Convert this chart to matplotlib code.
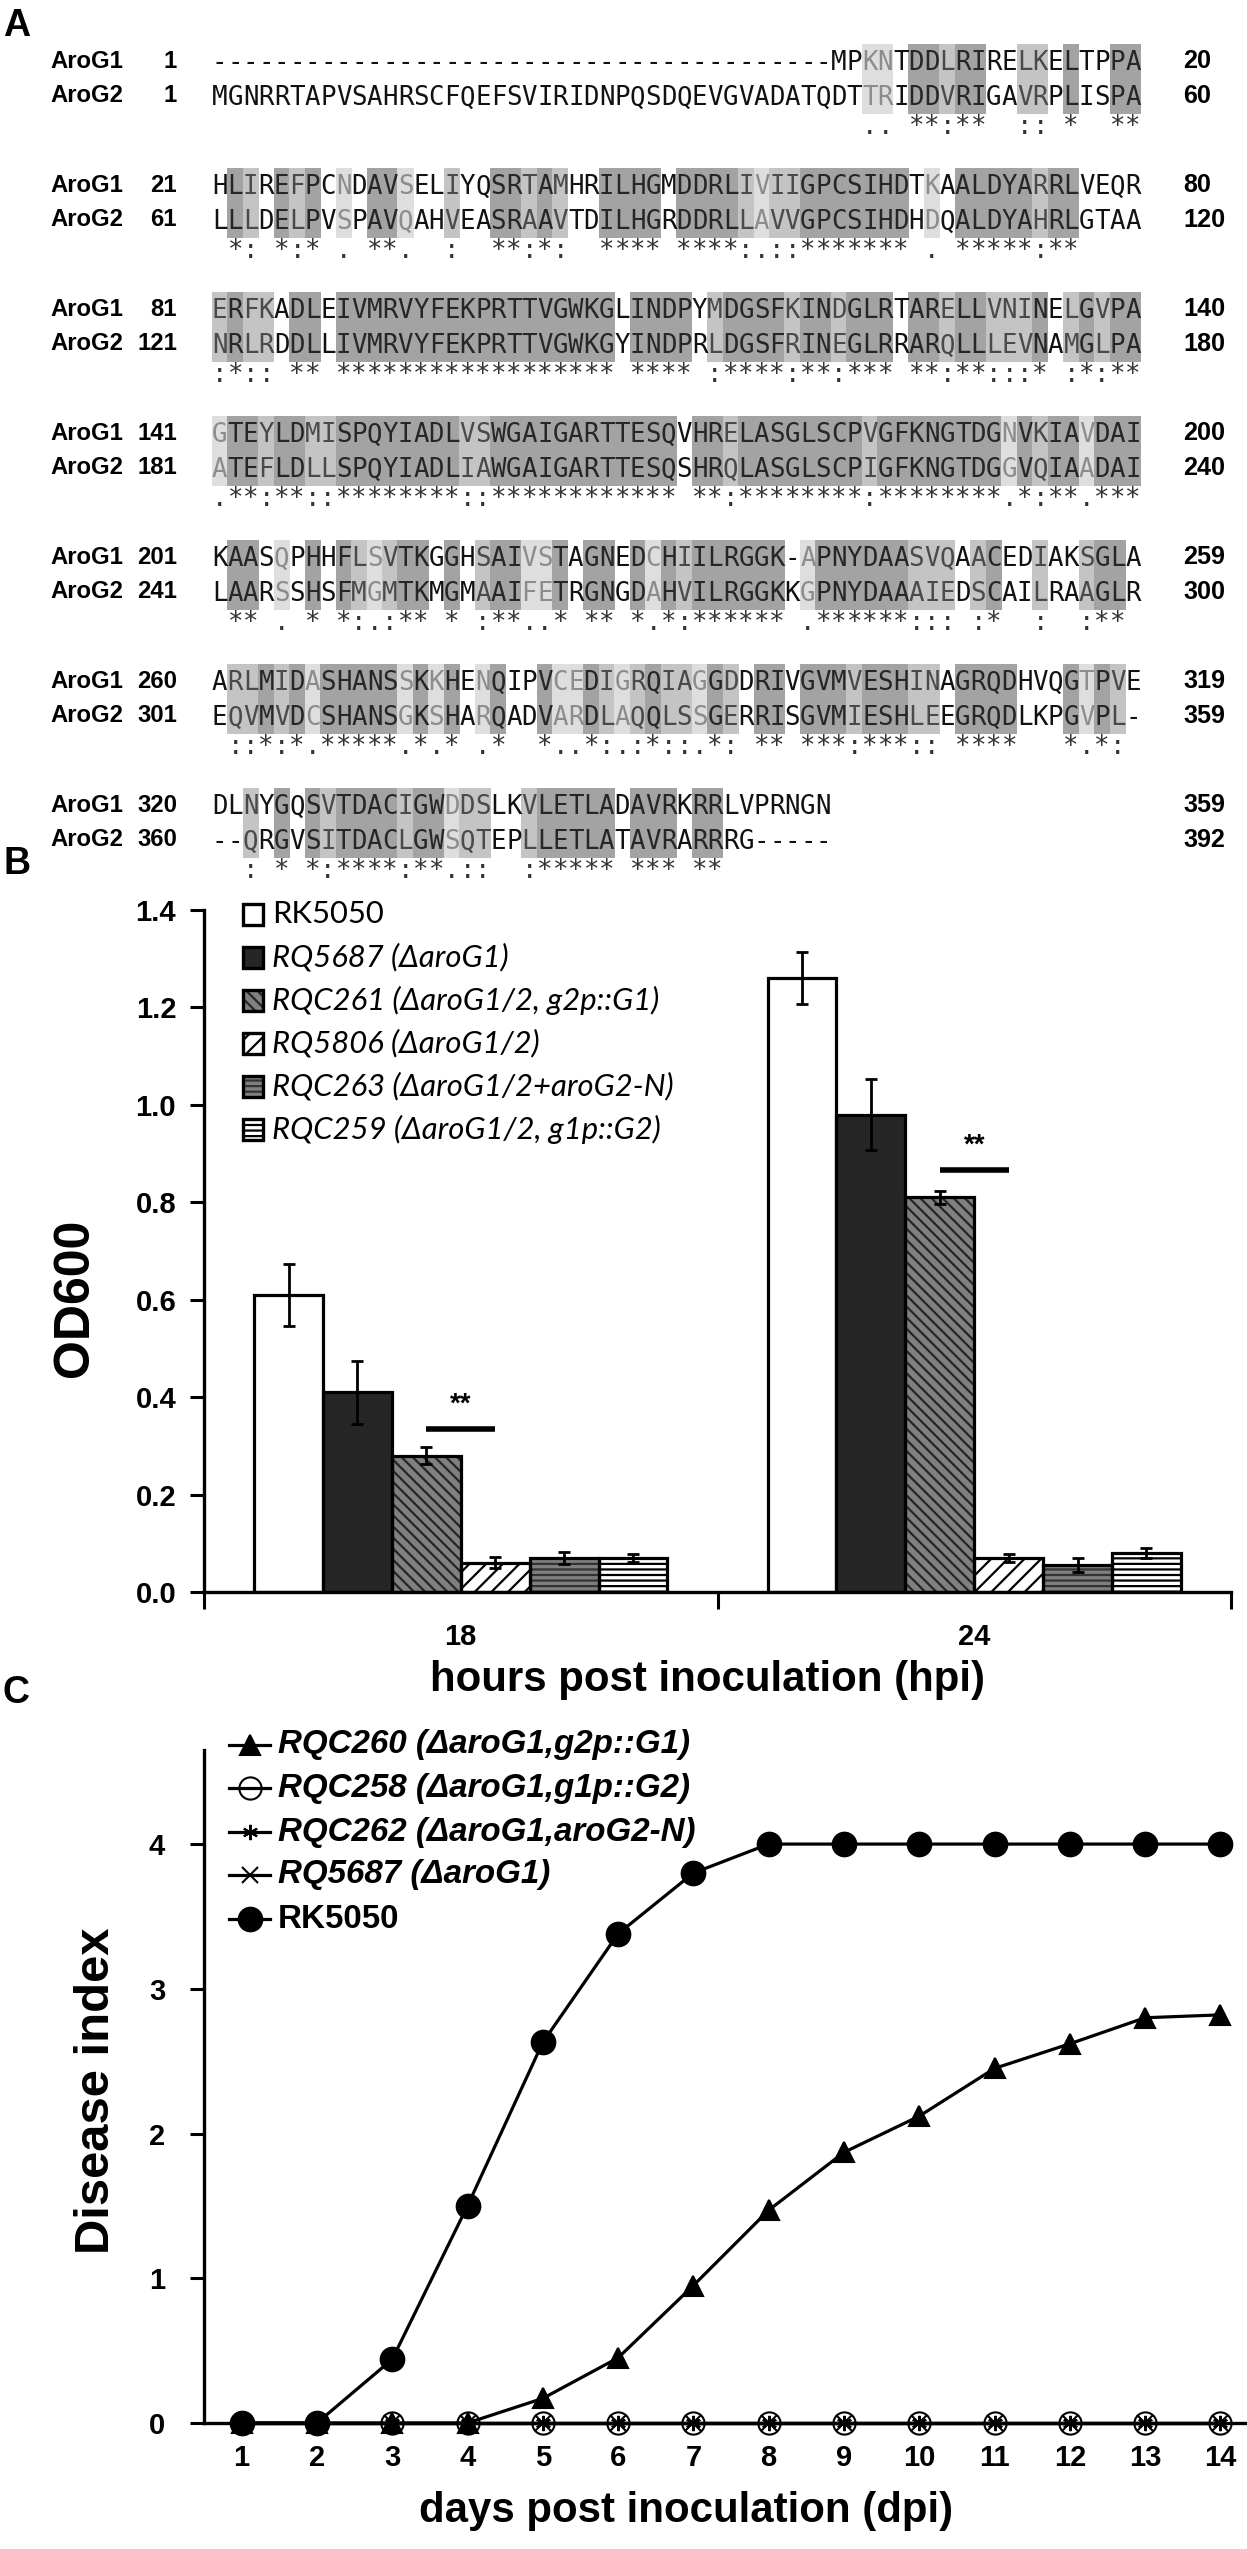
import matplotlib
matplotlib.use('Agg')
import matplotlib.pyplot as plt
import numpy as np
from matplotlib import font_manager as fm
from matplotlib.font_manager import FontProperties
from matplotlib.patches import Rectangle

# ---------------- data ----------------
aro_g1_seq = [
    "----------------------------------------MPKNTDDLRIRELKELTPPA",
    "HLIREFPCNDAVSELIYQSRTAMHRILHGMDDRLIVIIGPCSIHDTKAALDYARRLVEQR",
    "ERFKADLEIVMRVYFEKPRTTVGWKGLINDPYMDGSFKINDGLRTARELLVNINELGVPA",
    "GTEYLDMISPQYIADLVSWGAIGARTTESQVHRELASGLSCPVGFKNGTDGNVKIAVDAI",
    "KAASQPHHFLSVTKGGHSAIVSTAGNEDCHIILRGGK-APNYDAASVQAACEDIAKSGLA",
    "ARLMIDASHANSSKKHENQIPVCEDIGRQIAGGDDRIVGVMVESHINAGRQDHVQGTPVE",
    "DLNYGQSVTDACIGWDDSLKVLETLADAVRKRRLVPRNGN",
]
aro_g2_seq = [
    "MGNRRTAPVSAHRSCFQEFSVIRIDNPQSDQEVGVADATQDTTRIDDVRIGAVRPLISPA",
    "LLLDELPVSPAVQAHVEASRAAVTDILHGRDDRLLAVVGPCSIHDHDQALDYAHRLGTAA",
    "NRLRDDLLIVMRVYFEKPRTTVGWKGYINDPRLDGSFRINEGLRRARQLLLEVNAMGLPA",
    "ATEFLDLLSPQYIADLIAWGAIGARTTESQSHRQLASGLSCPIGFKNGTDGGVQIAADAI",
    "LAARSSHSFMGMTKMGMAAIFETRGNGDAHVILRGGKKGPNYDAAAIEDSCAILRAAGLR",
    "EQVMVDCSHANSGKSHARQADVARDLAQQLSSGERRISGVMIESHLEEGRQDLKPGVPL-",
    "--QRGVSITDACLGWSQTEPLLETLATAVRARRRG-----",
]
conservation = [
    "  .. **:**  :: *  **".rjust(60),
    "".join([" *: *:* ", ". ", "**", ".", "  ", ":", "  ", "**", ":", "*", ":", "  ",
             "****", " ", "****", ":", ".", "::", "*******", " ", ".", " ", "*****",
             ":", "**", "    "]),
    "".join([":*::", " ", "**", " ", "******************", " ", "****", " ", ":",
             "****", ":", "**", ":", "***", " ", "**", ":", "**", ":::", "*", " ",
             ":", "*", ":", "**"]),
    ".**:**::********::************ **:********:********.*:**.***",
    "".join([" ", "**", " ", ".", " ", "*", " ", "*", ":", ".", ":", "**", " ", "*",
             " ", ":", "**", "..", "*", " ", "**", " ", "*", ".", "*", ":", "******",
             " ", ".", "******", ":::", " ", ":", "*", "  ", ":", "  ", ":", "**", " "]),
    "".join([" ", "::", "*", ":", "*", ".", "*****", ".", "*", ".", "*", " ", ".",
             "*", "  ", "*", "..", "*", ":", ".", ":", "*", "::", ".", "*", ":", " ",
             "**", " ", "***", ":", "***", "::", " ", "****", "   ", "*", ".", "*",
             ":", " "]),
    "".join(["  ", ":", " ", "*", " ", "*", ":", "****", ":", "**", ".", "::", "  ",
             ":", "*****", " ", "***", " ", "**", "       "]),
]
aro_g1_start = [1, 21, 81, 141, 201, 260, 320]
aro_g1_end = [20, 80, 140, 200, 259, 319, 359]
aro_g2_start = [1, 61, 121, 181, 241, 301, 360]
aro_g2_end = [60, 120, 180, 240, 300, 359, 392]

hpi = ['18', '24']
strains_b = ['RK5050', 'RQ5687 (ΔaroG1)', 'RQC261 (ΔaroG1/2, g2p::G1)',
             'RQ5806 (ΔaroG1/2)', 'RQC263 (ΔaroG1/2+aroG2-N)',
             'RQC259 (ΔaroG1/2, g1p::G2)']
od_18h = [0.61, 0.41, 0.28, 0.06, 0.07, 0.07]
od_24h = [1.26, 0.98, 0.81, 0.07, 0.055, 0.08]
err_18h = [0.063, 0.065, 0.018, 0.011, 0.013, 0.008]
err_24h = [0.053, 0.073, 0.013, 0.008, 0.014, 0.010]
sig_line_y = [0.335, 0.867]

days = [1, 2, 3, 4, 5, 6, 7, 8, 9, 10, 11, 12, 13, 14]
strains_c = ['RQC260 (ΔaroG1,g2p::G1)', 'RQC258 (ΔaroG1,g1p::G2)',
             'RQC262 (ΔaroG1,aroG2-N)', 'RQ5687 (ΔaroG1)', 'RK5050']
di_rqc260 = [0, 0, 0, 0, 0.17, 0.45, 0.95, 1.47, 1.87, 2.12, 2.45, 2.62, 2.80, 2.82]
di_rqc258 = [0, 0, 0, 0, 0, 0, 0, 0, 0, 0, 0, 0, 0, 0]
di_rqc262 = [0, 0, 0, 0, 0, 0, 0, 0, 0, 0, 0, 0, 0, 0]
di_rq5687 = [0, 0, 0, 0, 0, 0, 0, 0, 0, 0, 0, 0, 0, 0]
di_rk5050 = [0, 0, 0.44, 1.50, 2.63, 3.38, 3.80, 4, 4, 4, 4, 4, 4, 4]

# ---------------- fonts ----------------
_names = {f.name for f in fm.fontManager.ttflist}
NARROW = 'Liberation Sans Narrow' if 'Liberation Sans Narrow' in _names else 'Liberation Sans'
SANS = 'Liberation Sans' if 'Liberation Sans' in _names else 'DejaVu Sans'
HUMAN = 'Lato' if 'Lato' in _names else NARROW
MONO = 'DejaVu Sans Mono'

plt.rcParams['hatch.linewidth'] = 1.6
W, H = 1247, 2549
fig = plt.figure(figsize=(W / 100, H / 100), dpi=100)
fig.patch.set_facecolor('white')
renderer = fig.canvas.get_renderer()


def fx(px):
    return px / W


def fy(py):
    return 1 - py / H


def fit(t, target, vertical=False):
    bb = t.get_window_extent(renderer=renderer)
    cur = bb.height if vertical else bb.width
    t.set_fontsize(t.get_fontsize() * target / cur)
    return t.get_fontsize()


# ---------------- panel B axes ----------------
bx0, bx1, by_top, by_bot = 204, 1231, 910, 1592
axb = fig.add_axes([fx(bx0), fy(by_bot), (bx1 - bx0) / W, (by_bot - by_top) / H])
axb.set_facecolor('none')
axb.set_xlim(-0.5, 1.5)
axb.set_ylim(0, 1.4)
faces = ['white', '#262626', '#808080', 'white', '#7f7f7f', 'white']
hcols = ['white', '#262626', '#262626', 'black', '#333333', 'black']
hatches = [None, None, '\\\\\\', '//', '---', '---']
nb = len(strains_b)
wbar = 0.805 / nb
xg = np.arange(len(hpi))
for i in range(nb):
    xs = xg + (i - (nb - 1) / 2) * wbar
    vals = [od_18h[i], od_24h[i]]
    errs = [err_18h[i], err_24h[i]]
    axb.bar(xs, vals, wbar, color=faces[i], edgecolor=hcols[i], hatch=hatches[i],
            linewidth=0, zorder=2)
    axb.bar(xs, vals, wbar, facecolor='none', edgecolor='black', linewidth=2.3, zorder=3)
    axb.errorbar(xs, vals, yerr=errs, fmt='none', ecolor='black', elinewidth=2,
                 capsize=4, capthick=2, zorder=4)
for g in range(len(hpi)):
    xa = g + (2 - (nb - 1) / 2) * wbar
    xb = g + (3 - (nb - 1) / 2) * wbar
    axb.plot([xa, xb], [sig_line_y[g], sig_line_y[g]], color='black', lw=4,
             solid_capstyle='butt', zorder=5)
    axb.text((xa + xb) / 2, sig_line_y[g] + 0.05, '**', ha='center', va='center',
             fontsize=20, fontweight='bold', family=SANS, zorder=5)
for s in ['top', 'right']:
    axb.spines[s].set_visible(False)
for s in ['left', 'bottom']:
    axb.spines[s].set_linewidth(2.4)
axb.set_yticks(np.arange(0, 1.41, 0.2))
axb.set_yticklabels(['%.1f' % v for v in np.arange(0, 1.41, 0.2)])
axb.set_xticks(xg)
axb.set_xticklabels(hpi)
axb.set_xticks([-0.5, 0.5, 1.5], minor=True)
axb.tick_params(axis='y', direction='out', length=10, width=2.2, pad=10)
axb.tick_params(axis='x', which='major', length=0, pad=22)
axb.tick_params(axis='x', which='minor', direction='out', length=12, width=2.2)
for lbl in axb.get_yticklabels() + axb.get_xticklabels():
    lbl.set_fontfamily(SANS)
    lbl.set_fontweight('bold')
    lbl.set_fontsize(21)

# ---------------- panel C axes ----------------
cx0, cx1, cy_top, cy_bot = 204, 1258, 1750, 2423
axc = fig.add_axes([fx(cx0), fy(cy_bot), (cx1 - cx0) / W, (cy_bot - cy_top) / H])
axc.set_facecolor('none')
axc.set_xlim(0.5, 14.5)
axc.set_ylim(0, 4.65)
series_c = [di_rqc260, di_rqc258, di_rqc262, di_rq5687, di_rk5050]
markers_c = ['^', 'o', (6, 2, 0), 'x', 'o']
mfc_c = ['black', 'none', 'black', 'black', 'black']
ms_c = [15, 16, 11, 11, 17]
for k in range(len(series_c)):
    axc.plot(days, series_c[k], color='black', lw=2.3, marker=markers_c[k],
             markersize=ms_c[k], markerfacecolor=mfc_c[k], markeredgecolor='black',
             markeredgewidth=1.5, clip_on=False, zorder=3 + k)
for s in ['top', 'right']:
    axc.spines[s].set_visible(False)
for s in ['left', 'bottom']:
    axc.spines[s].set_linewidth(2.4)
axc.set_yticks([0, 1, 2, 3, 4])
axc.set_xticks(days)
axc.tick_params(axis='y', direction='out', length=10, width=2.2, pad=18)
axc.tick_params(axis='x', length=0, pad=15)
for lbl in axc.get_yticklabels() + axc.get_xticklabels():
    lbl.set_fontfamily(SANS)
    lbl.set_fontweight('bold')
    lbl.set_fontsize(21)

# ---------------- overlay (pixel coordinates) ----------------
ov = fig.add_axes([0, 0, 1, 1], zorder=10)
ov.set_xlim(0, W)
ov.set_ylim(H, 0)
ov.axis('off')

for letter, (px, py) in zip('ABC', [(3, 26), (3, 864), (3, 1693)]):
    ov.text(px, py, letter, ha='left', va='center', fontsize=27,
            fontweight='bold', family=SANS)

# ---------------- panel A: alignment ----------------
x0a, cw = 212.0, 15.48
blk_y0, blk_dy, row_dy = 61, 124.0, 35
shade = {'*': '#a3a3a3', ':': '#c4c4c4', '.': '#dedede'}
tcol = {'*': '#262626', ':': '#4a4a4a', '.': '#8c8c8c', ' ': '#111111'}
seqfp = FontProperties(family=MONO, size=18.5)
consfp = FontProperties(family=MONO, size=18.5)
tname = ov.text(50, 0, 'AroG1', fontweight='bold', family=SANS, fontsize=20)
name_fs = fit(tname, 73)
tname.remove()
for b in range(len(aro_g1_seq)):
    y1 = blk_y0 + b * blk_dy
    y2 = y1 + row_dy
    yc = y2 + 38
    s1, s2, cs = aro_g1_seq[b], aro_g2_seq[b], conservation[b]
    for i in range(len(s1)):
        k = cs[i] if i < len(cs) else ' '
        x = x0a + i * cw
        if k in shade:
            ov.add_patch(Rectangle((x - 0.3, y1 - 17.5), cw + 0.6, 2 * row_dy,
                                   facecolor=shade[k], edgecolor='none', zorder=1))
        ov.text(x + cw / 2, y1 + 9.4, s1[i], ha='center', va='baseline',
                fontproperties=seqfp, color=tcol[k], zorder=2)
        ov.text(x + cw / 2, y2 + 9.4, s2[i], ha='center', va='baseline',
                fontproperties=seqfp, color=tcol[k], zorder=2)
        if k != ' ':
            ov.text(x + cw / 2, yc, k, ha='center', va='baseline',
                    fontproperties=consfp, color='#333333', zorder=2)
    for yy, nm, st, en in [(y1, 'AroG1', aro_g1_start[b], aro_g1_end[b]),
                           (y2, 'AroG2', aro_g2_start[b], aro_g2_end[b])]:
        ov.text(50, yy, nm, ha='left', va='center', fontweight='bold',
                family=SANS, fontsize=name_fs)
        ov.text(177, yy, str(st), ha='right', va='center', fontweight='bold',
                family=SANS, fontsize=name_fs)
        ov.text(1183, yy, str(en), ha='left', va='center', fontweight='bold',
                family=NARROW, fontsize=name_fs * 1.05)

# ---------------- panel B legend & labels ----------------
leg_b_y = [914, 957, 1000, 1043, 1086, 1129]
tl = ov.text(272, 0, strains_b[4], style='italic', family=HUMAN, fontsize=18)
leg_b_fs = fit(tl, 401)
tl.remove()
for i in range(nb):
    yy = leg_b_y[i]
    ov.add_patch(Rectangle((243, yy - 10.5), 20, 21, facecolor=faces[i],
                           edgecolor=hcols[i], hatch=hatches[i], linewidth=0, zorder=3))
    ov.add_patch(Rectangle((243, yy - 10.5), 20, 21, facecolor='none',
                           edgecolor='black', linewidth=2.4, zorder=4))
    ov.text(272, yy, strains_b[i], ha='left', va='center', family=HUMAN,
            style='normal' if i == 0 else 'italic', fontsize=leg_b_fs, zorder=4)

t = ov.text(75, 1298, 'OD600', rotation=90, ha='center', va='center',
            fontweight='bold', family=NARROW, fontsize=30)
fit(t, 158, vertical=True)
t = ov.text(708, 1680, 'hours post inoculation (hpi)', ha='center', va='center',
            fontweight='bold', family=NARROW, fontsize=28)
fit(t, 555)

# ---------------- panel C legend & labels ----------------
leg_c_y = [1745, 1788, 1832, 1875, 1919]
tl = ov.text(278, 0, strains_c[2], style='italic', fontweight='bold',
             family=NARROW, fontsize=18)
leg_c_fs = fit(tl, 418)
tl.remove()
for k in range(len(strains_c)):
    yy = leg_c_y[k]
    ov.plot([229, 270], [yy, yy], color='black', lw=2.3, zorder=3)
    ov.plot([249.5], [yy], marker=markers_c[k], markersize=ms_c[k],
            markerfacecolor=mfc_c[k], markeredgecolor='black', markeredgewidth=1.5,
            color='black', zorder=4)
    ov.text(278, yy, strains_c[k], ha='left', va='center', family=NARROW,
            fontweight='bold', style='normal' if k == 4 else 'italic',
            fontsize=leg_c_fs, zorder=4)

t = ov.text(97, 2091, 'Disease index', rotation=90, ha='center', va='center',
            fontweight='bold', family=SANS, fontsize=30)
fit(t, 327, vertical=True)
t = ov.text(686, 2511, 'days post inoculation (dpi)', ha='center', va='center',
            fontweight='bold', family=NARROW, fontsize=28)
fit(t, 535)

fig.savefig('out.png', dpi=100, facecolor='white')
